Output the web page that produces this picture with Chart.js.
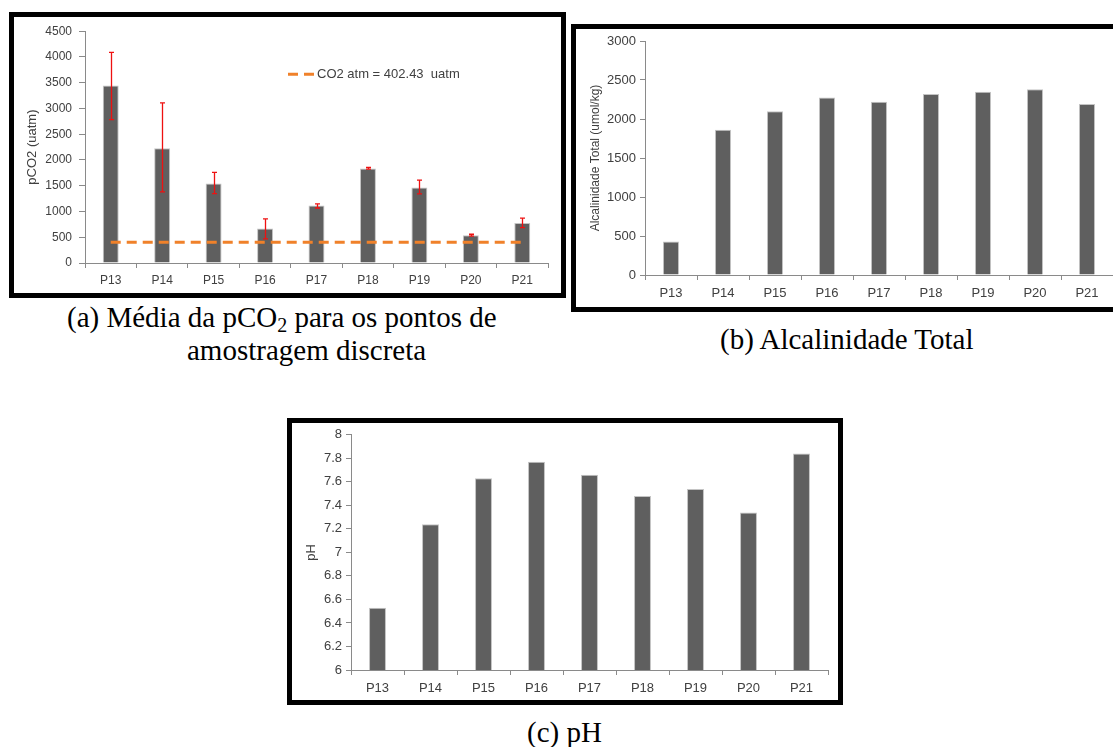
<!DOCTYPE html>
<html>
<head>
<meta charset="utf-8">
<script src="https://cdn.jsdelivr.net/npm/chart.js@4.4.1/dist/chart.umd.min.js"></script>
<style>
  html, body { margin: 0; padding: 0; background: #fff; width: 1113px; height: 747px; overflow: hidden; position: relative; }
  .frame { position: absolute; border: 5px solid #000; box-sizing: border-box; background: #fff; }
  .frame canvas { position: absolute; left: 0; top: 0; }
  .cap { position: absolute; font-family: "Liberation Serif", "Times New Roman", serif; font-size: 29px; line-height: 29px; color: #000; white-space: nowrap; }
  .cap sub { font-size: 20px; vertical-align: -5px; line-height: 0; }
</style>
</head>
<body>
<div class="frame" id="fa" style="left:9px; top:12px; width:557px; height:286px;"><canvas id="ca" width="547" height="276"></canvas></div>
<div class="frame" id="fb" style="left:571px; top:24px; width:560px; height:288px;"><canvas id="cb" width="550" height="278"></canvas></div>
<div class="frame" id="fc" style="left:287px; top:418px; width:556px; height:287px;"><canvas id="cc" width="546" height="277"></canvas></div>

<div class="cap" style="left:67px; top:303px;">(a) Média da pCO<sub>2</sub> para os pontos de</div>
<div class="cap" style="left:187px; top:336px;">amostragem discreta</div>
<div class="cap" style="left:720px; top:325px;">(b) Alcalinidade Total</div>
<div class="cap" style="left:527px; top:718px;">(c) pH</div>

<script>
// ---------- DATA ----------
const categories = ['P13', 'P14', 'P15', 'P16', 'P17', 'P18', 'P19', 'P20', 'P21'];

const pco2Values  = [3445, 2230, 1545, 668, 1117, 1835, 1468, 540, 776];
const pco2ErrLow  = [2785, 1380, 1345, 470, 1068, 1822, 1342, 522, 688];
const pco2ErrHigh = [4090, 3110, 1760, 855, 1148, 1855, 1610, 558, 872];
const co2AtmLabel = 'CO2 atm = 402.43  uatm';
const co2AtmLine  = [402.43, 402.43, 402.43, 402.43, 402.43, 402.43, 402.43, 402.43, 402.43];

const alkValues = [430, 1862, 2098, 2277, 2221, 2319, 2349, 2383, 2191];

const phValues = [6.53, 7.24, 7.63, 7.77, 7.66, 7.48, 7.54, 7.34, 7.84];

// ---------- STYLE ----------
const FONT = "'Liberation Sans', Arial, sans-serif";
const TICK_COLOR = '#404040';
const AXIS_COLOR = '#8a8a8a';
const BAR_COLOR = '#5f5f5f';
const BAR_EDGE = '#c4c4c4';

const errorBarPlugin = {
  id: 'errorBars',
  afterDatasetsDraw(chart, args, opts) {
    if (!opts || !opts.low) return;
    const ctx = chart.ctx, xs = chart.scales.x, ys = chart.scales.y;
    ctx.save();
    ctx.strokeStyle = opts.color;
    ctx.lineWidth = opts.width;
    opts.low.forEach((lo, i) => {
      const px = Math.round(xs.getPixelForValue(i)) + 0.5;
      const y1 = ys.getPixelForValue(lo);
      const y2 = ys.getPixelForValue(opts.high[i]);
      ctx.beginPath();
      ctx.moveTo(px, y1); ctx.lineTo(px, y2);
      ctx.moveTo(px - opts.cap, y1); ctx.lineTo(px + opts.cap, y1);
      ctx.moveTo(px - opts.cap, y2); ctx.lineTo(px + opts.cap, y2);
      ctx.stroke();
    });
    ctx.restore();
  }
};

const insideLegendPlugin = {
  id: 'insideLegend',
  afterDraw(chart, args, opts) {
    if (!opts || !opts.text) return;
    const ctx = chart.ctx, a = chart.chartArea;
    const x = a.left + opts.dx, y = a.top + opts.dy;
    ctx.save();
    ctx.strokeStyle = opts.color;
    ctx.lineWidth = opts.lineWidth;
    ctx.beginPath();
    ctx.moveTo(x, y); ctx.lineTo(x + 10, y);
    ctx.moveTo(x + 16, y); ctx.lineTo(x + 26, y);
    ctx.stroke();
    ctx.fillStyle = TICK_COLOR;
    ctx.font = opts.font;
    ctx.textBaseline = 'middle';
    ctx.textAlign = 'left';
    ctx.fillText(opts.text, x + 29, y + 0.5);
    ctx.restore();
  }
};

function makeOptions(cfg) {
  return {
    responsive: false,
    animation: false,
    devicePixelRatio: 1,
    layout: { padding: { left: 0, right: cfg.padRight, top: cfg.padTop, bottom: 0 } },
    plugins: {
      legend: { display: false },
      tooltip: { enabled: false },
      errorBars: cfg.errorBars || {},
      insideLegend: cfg.insideLegend || {}
    },
    scales: {
      x: {
        offset: true,
        afterFit(s) { s.height = cfg.xHeight; },
        grid: { display: true, offset: true, drawOnChartArea: false, drawTicks: true, tickLength: 5, color: AXIS_COLOR },
        border: { display: true, color: AXIS_COLOR, width: 1 },
        ticks: { color: TICK_COLOR, font: { family: FONT, size: cfg.xFont }, padding: cfg.xPad, maxRotation: 0, autoSkip: false }
      },
      y: {
        min: cfg.yMin, max: cfg.yMax,
        afterFit(s) { s.width = cfg.yWidth; },
        grid: { display: true, drawOnChartArea: false, drawTicks: true, tickLength: cfg.yTick, color: AXIS_COLOR },
        border: { display: true, color: AXIS_COLOR, width: 1 },
        ticks: {
          stepSize: cfg.step, color: TICK_COLOR, padding: cfg.yPad,
          font: { family: FONT, size: cfg.yFont },
          callback: (v) => String(Math.round(v * 10) / 10)
        },
        title: {
          display: true, text: cfg.title, color: TICK_COLOR,
          font: { family: FONT, size: cfg.titleFont },
          padding: { top: cfg.titlePad, bottom: 0 }
        }
      }
    }
  };
}

const barStyle = {
  backgroundColor: BAR_COLOR, borderColor: BAR_EDGE, borderWidth: 1,
  barPercentage: 0.31, categoryPercentage: 1.0
};

// (a) pCO2
new Chart(document.getElementById('ca'), {
  type: 'bar',
  data: {
    labels: categories,
    datasets: [
      { type: 'line', label: co2AtmLabel, data: co2AtmLine, borderColor: '#f0812a', borderWidth: 3,
        borderDash: [10, 6], pointRadius: 0, fill: false, order: 0 },
      Object.assign({ type: 'bar', label: 'pCO2', data: pco2Values, order: 1 }, barStyle)
    ]
  },
  options: makeOptions({
    yMin: 0, yMax: 4500, step: 500, title: 'pCO2 (uatm)',
    yWidth: 71, xHeight: 30, padRight: 13, padTop: 13,
    xFont: 12, yFont: 12, titleFont: 13, titlePad: 11, yTick: 6, yPad: 7, xPad: 5,
    errorBars: { low: pco2ErrLow, high: pco2ErrHigh, color: '#ee1111', width: 1.3, cap: 2.5 },
    insideLegend: { text: co2AtmLabel, dx: 203, dy: 43, color: '#f0812a', lineWidth: 3, font: "13px 'Liberation Sans', Arial, sans-serif" }
  }),
  plugins: [errorBarPlugin, insideLegendPlugin]
});

// (b) Alcalinidade Total
new Chart(document.getElementById('cb'), {
  type: 'bar',
  data: {
    labels: categories,
    datasets: [ Object.assign({ label: 'Alcalinidade Total', data: alkValues }, barStyle) ]
  },
  options: makeOptions({
    yMin: 0, yMax: 3000, step: 500, title: 'Alcalinidade Total (umol/kg)',
    yWidth: 69, xHeight: 32, padRight: 13, padTop: 12,
    xFont: 13, yFont: 13, titleFont: 12, titlePad: 12, yTick: 5, yPad: 4, xPad: 6
  })
});

// (c) pH
new Chart(document.getElementById('cc'), {
  type: 'bar',
  data: {
    labels: categories,
    datasets: [ Object.assign({ label: 'pH', data: phValues }, barStyle, { barPercentage: 0.32 }) ]
  },
  options: makeOptions({
    yMin: 6, yMax: 8, step: 0.2, title: 'pH',
    yWidth: 59, xHeight: 30, padRight: 10, padTop: 11,
    xFont: 13, yFont: 13, titleFont: 13, titlePad: 12, yTick: 5, yPad: 4, xPad: 6
  })
});
</script>
</body>
</html>
